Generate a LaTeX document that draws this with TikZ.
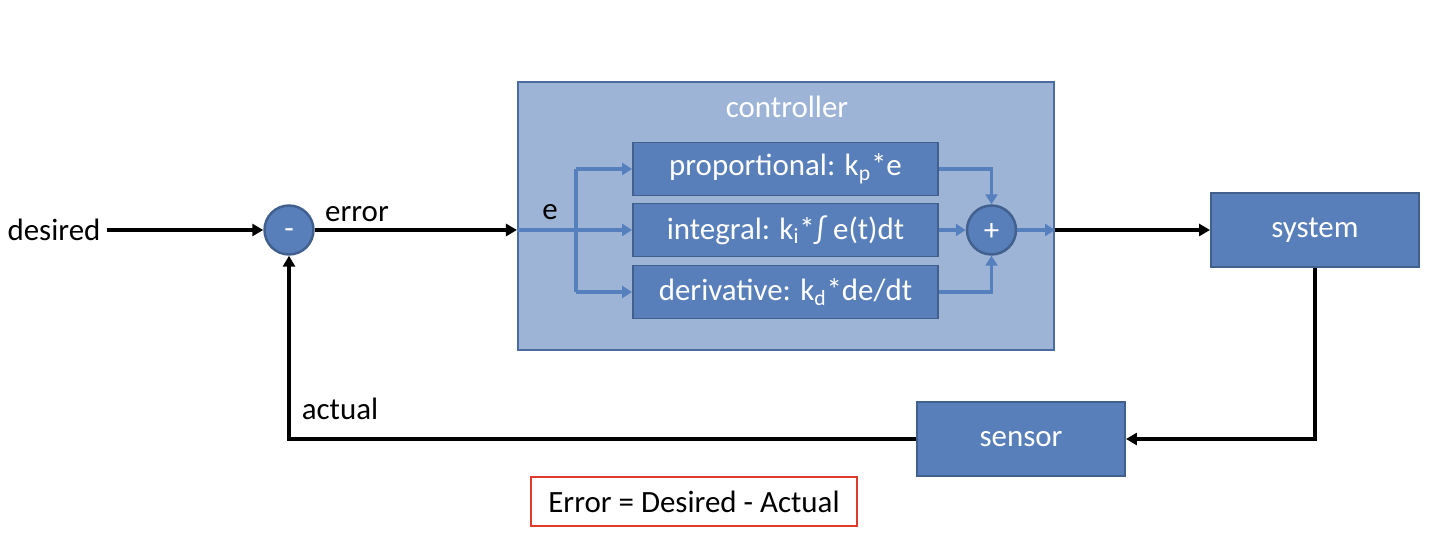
\documentclass[tikz,border=0pt]{standalone}
\usepackage{fontspec}
\setmainfont{Carlito}
\usetikzlibrary{arrows.meta}

\definecolor{blockfill}{RGB}{88,127,186}
\definecolor{blockline}{RGB}{66,96,142}
\definecolor{ctrlfill}{RGB}{158,180,214}
\definecolor{ctrlline}{RGB}{74,108,160}
\definecolor{wireblue}{RGB}{86,127,190}
\definecolor{notered}{RGB}{226,58,42}

\tikzset{
  block/.style={draw=blockline, line width=1.1pt, fill=blockfill, text=white,
    minimum width=4.16cm, minimum height=1.48cm, inner sep=0pt},
  term/.style={block, minimum width=6.1cm, minimum height=1.06cm},
  junction/.style={circle, draw=blockline, line width=1.4pt, fill=blockfill,
    text=white, minimum size=0.98cm, inner sep=0pt, text depth=0pt},
  sig/.style={line width=2pt, black},
  sigarrow/.style={sig, -{Triangle[length=0.22cm, width=0.24cm]}},
  wire/.style={line width=2.2pt, wireblue},
  wirearrow/.style={wire, -{Triangle[length=0.2cm, width=0.24cm]}},
  every node/.style={font=\fontsize{17.6}{20}\selectfont}
}

\begin{document}
\begin{tikzpicture}
		\useasboundingbox (0,0) rectangle (28.8,10.8);

		% controller frame
		\node [draw=ctrlline, line width=1.2pt, fill=ctrlfill, minimum width=10.72cm,
		  minimum height=5.36cm, inner sep=0pt] (ctrl) at (15.72,6.48) {};
		\node [text=white] (ctrltitle) at (15.74,8.66) {controller};

		% terms
		\node [term] (prop) at (15.71,7.42) {proportional: k\textsubscript{p}*e};
		\node [term] (integ) at (15.71,6.2) {integral: k\textsubscript{i}*∫ e(t)dt};
		\node [term] (deriv) at (15.71,4.96) {derivative: k\textsubscript{d}*de/dt};

		% junctions
		\node [junction, text height=9.6pt] (minus) at (5.78,6.2) {-};
		\node [junction, text height=11.4pt] (plus) at (19.83,6.2) {+};

		% plant and sensor
		\node [block] (system) at (26.3,6.2) {system};
		\node [block] (sensor) at (20.42,2.02) {sensor};

		% label
		\node (desired) at (1.08,6.2) {desired};
		\node (errlbl) at (7.14,6.52) {error};
		\node (elbl) at (11.0,6.56) {e};
		\node (actlbl) at (6.8,2.62) {actual};

		\coordinate (cin) at (minus -| ctrl.west);
		\coordinate (cout) at (plus -| ctrl.east);
		\coordinate (split) at (11.52,6.2);

		% black signals
		\draw [sigarrow] (desired.east) -- (minus.west);
		\draw [sigarrow] (minus.east) -- (cin);
		\draw [sigarrow] (cout) -- (system.west);
		\draw [sigarrow] (system.south) |- (sensor.east);
		\draw [sigarrow] (sensor.west) -| (minus.south);

		% branches inside the controller
		\draw [wirearrow] (cin) -- (integ.west);
		\draw [wire] (split |- prop) -- (split |- deriv);
		\draw [wirearrow] (split |- prop) -- (prop.west);
		\draw [wirearrow] (split |- deriv) -- (deriv.west);

		% sum
		\draw [wirearrow] (prop.east) -| (plus.north);
		\draw [wirearrow] (integ.east) -- (plus.west);
		\draw [wirearrow] (deriv.east) -| (plus.south);
		\draw [wirearrow] (plus.east) -- (cout);

		% note
		\node [draw=notered, line width=1.3pt, minimum width=6.52cm, minimum height=0.98cm,
		  inner sep=0pt] (note) at (13.88,0.77) {Error = Desired - Actual};
\end{tikzpicture}
\end{document}
